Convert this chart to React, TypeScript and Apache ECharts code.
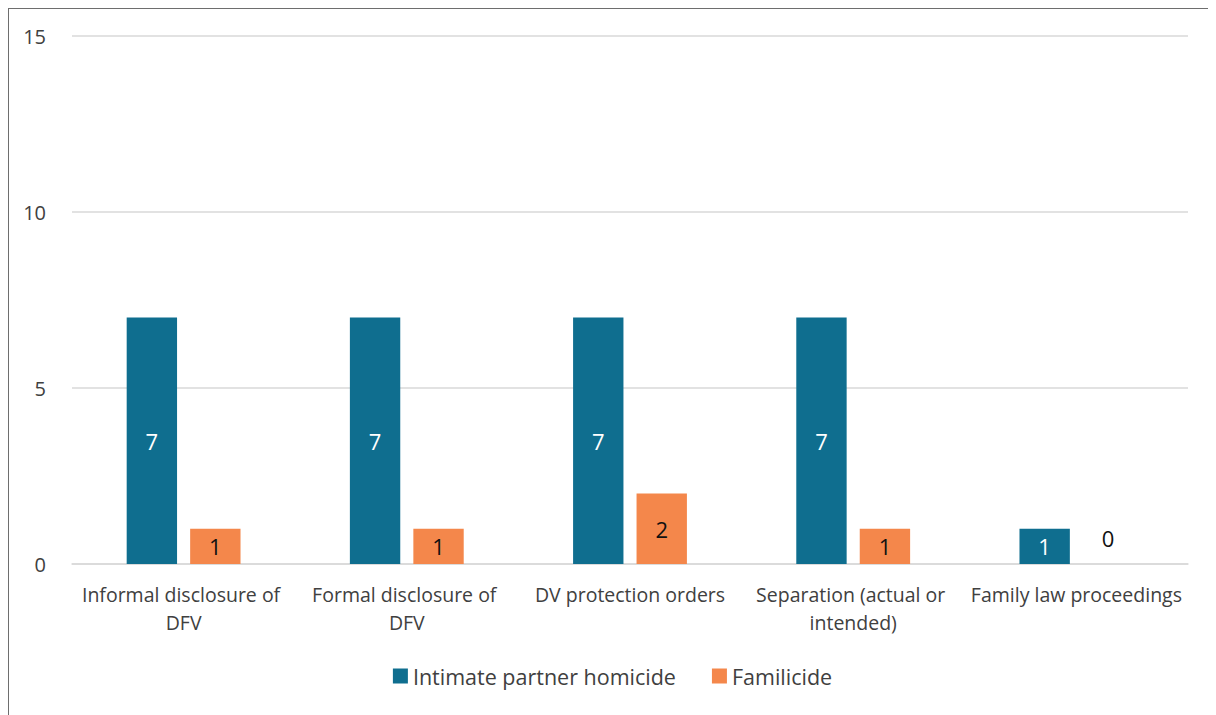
import React, { useEffect, useRef } from "react";
import * as echarts from "echarts";

const categories = [
  "Informal disclosure of DFV",
  "Formal disclosure of DFV",
  "DV protection orders",
  "Separation (actual or intended)",
  "Family law proceedings",
];
const intimatePartnerHomicide = [7, 7, 7, 7, 1];
const familicide = [1, 1, 2, 1, 0];
const seriesNames = ["Intimate partner homicide", "Familicide"];
const yTicks = { min: 0, max: 15, interval: 5 };

const FONT = "'Open Sans', 'Noto Sans', sans-serif";

export default function App() {
  const ref = useRef<HTMLDivElement>(null);
  useEffect(() => {
    if (!ref.current) return;
    const chart = echarts.init(ref.current, undefined, { renderer: "svg" });
    chart.setOption({
      animation: false,
      textStyle: { fontFamily: FONT },
      grid: { left: 63, right: 28, top: 27, bottom: 151, containLabel: false },
      legend: {
        bottom: 23,
        left: "center",
        itemWidth: 15,
        itemHeight: 15,
        itemGap: 36,
        icon: "rect",
        textStyle: { fontSize: 21.5, color: "#404040", fontFamily: FONT },
        data: seriesNames,
      },
      xAxis: {
        type: "category",
        data: categories,
        axisLine: { lineStyle: { color: "#d9d9d9", width: 1.5 } },
        axisTick: { show: false },
        axisLabel: {
          interval: 0,
          fontSize: 19.5,
          color: "#404040",
          width: 218,
          overflow: "break",
          lineHeight: 28,
          margin: 16,
          fontFamily: FONT,
        },
      },
      yAxis: {
        type: "value",
        min: yTicks.min,
        max: yTicks.max,
        interval: yTicks.interval,
        axisLine: { show: false },
        axisTick: { show: false },
        splitLine: { lineStyle: { color: "#d9d9d9", width: 1.5 } },
        axisLabel: { fontSize: 20, color: "#404040", margin: 26, fontFamily: FONT },
      },
      series: [
        {
          name: seriesNames[0],
          type: "bar",
          data: intimatePartnerHomicide,
          barGap: "26%",
          barCategoryGap: "49%",
          itemStyle: { color: "#0F6E8F" },
          label: {
            show: true,
            position: "inside",
            color: "#ffffff",
            fontSize: 22,
            fontFamily: FONT,
          },
        },
        {
          name: seriesNames[1],
          type: "bar",
          data: familicide.map((v) =>
            v === 0
              ? { value: v, label: { position: "top", distance: 15 } }
              : v
          ),
          itemStyle: { color: "#F4874B" },
          label: {
            show: true,
            position: "inside",
            color: "#111111",
            fontSize: 22,
            fontFamily: FONT,
          },
        },
      ],
    });
    return () => chart.dispose();
  }, []);
  return (
    <div
      style={{
        width: 1208,
        height: 707,
        boxSizing: "border-box",
        borderLeft: "1px solid #6e6e6e",
        borderTop: "1px solid #6e6e6e",
      }}
    >
      <div ref={ref} style={{ width: 1207, height: 706 }} />
    </div>
  );
}
